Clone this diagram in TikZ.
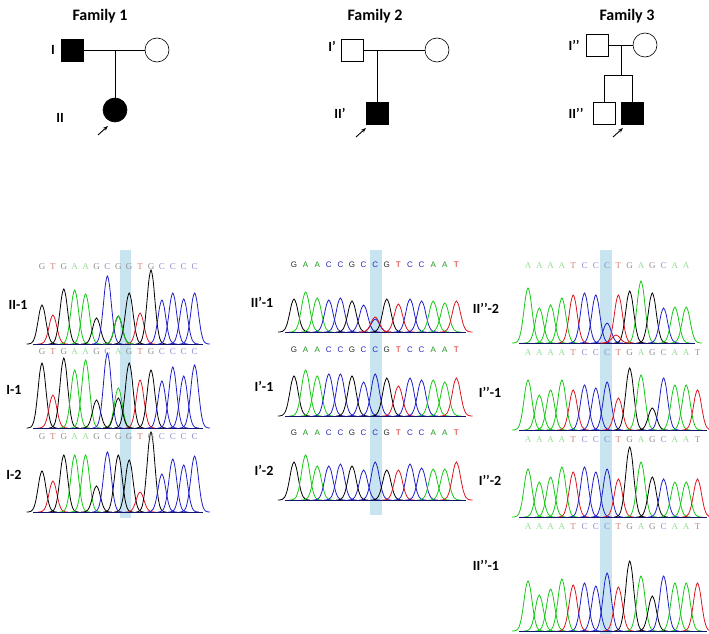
\documentclass[tikz,border=0pt]{standalone}
\usepackage{fontspec}
\setmainfont{Carlito}
\newfontfamily\seqfont{Liberation Serif}
\newfontfamily\seqsans{Liberation Sans}
\usetikzlibrary{arrows.meta}
\definecolor{colA}{RGB}{20,200,20}
\definecolor{colC}{RGB}{30,30,200}
\definecolor{colG}{RGB}{0,0,0}
\definecolor{colT}{RGB}{220,20,30}
\definecolor{txtA}{RGB}{150,220,150}
\definecolor{txtC}{RGB}{140,140,210}
\definecolor{txtG}{RGB}{140,140,140}
\definecolor{txtT}{RGB}{210,130,120}
\definecolor{darkA}{RGB}{30,150,30}
\definecolor{darkC}{RGB}{40,40,190}
\definecolor{darkG}{RGB}{40,40,40}
\definecolor{darkT}{RGB}{210,30,30}
\definecolor{hilite}{RGB}{200,228,240}
\definecolor{axis}{RGB}{20,20,110}
\tikzset{
  male/.style={draw,rectangle,minimum size=22pt,inner sep=0pt,line width=0.6pt},
  female/.style={draw,circle,minimum size=24pt,inner sep=0pt,line width=0.6pt},
  affected/.style={fill=black},
  famtitle/.style={font=\bfseries\fontsize{16}{18}\selectfont},
  gen/.style={font=\bfseries\fontsize{14}{16}\selectfont},
  sample/.style={font=\bfseries\fontsize{14}{16}\selectfont},
}
% peak: x, dx, baseline, height, colour
\newcommand\peak[5]{%
  \draw[#5,line width=0.8pt] plot[smooth,domain={#1-1.4*#2}:{#1+1.4*#2},samples=15]
    (\x,{#3-#4*exp(-((\x-#1)/(0.5*#2))^2)});}
% trace: x0, dx, baseline, text y, letter/height list, count, text colour prefix, font
\newcommand\trace[8]{%
  \foreach \b/\h [count=\i from 0] in {#5}{
    \pgfmathsetmacro\px{#1+\i*#2}
    \peak{\px}{#2}{#3}{\h}{col\b}
    \node[text=#7\b,font=#8,inner sep=0pt] at (\px,#4) {\b};
  }
  \draw[axis,line width=0.8pt] ({#1-0.8*#2},#3) -- ({#1+(#6-0.2)*#2},#3);}
\begin{document}
\begin{tikzpicture}[x=1pt,y=-1pt]
\useasboundingbox (0,0) rectangle (709,634);
% highlights
\fill[hilite] (120,250) rectangle (131,518);
\fill[hilite] (370,250) rectangle (382,515);
\fill[hilite] (600,250) rectangle (612,634);

% family 1
\node[famtitle] (t1) at (100,16) {Family 1};
\node[male,affected] (f1a) at (72,50) {};
\node[female] (f1b) at (157,50) {};
\node[female,affected] (f1c) at (115,110) {};
\coordinate (f1m) at (115,50);
\draw (f1a) -- (f1b);
\draw (f1m) -- (f1c);
\node[gen] (g1a) at (53,50) {I};
\node[gen] (g1b) at (60,118) {II};
\coordinate (a1s) at (98,135); \coordinate (a1e) at (108,126);
\draw[-{Stealth[length=5pt]},line width=0.9pt] (a1s) -- (a1e);

% family 2
\node[famtitle] (t2) at (375,16) {Family 2};
\node[male] (f2a) at (352,50) {};
\node[female] (f2b) at (437,50) {};
\node[male,affected] (f2c) at (377,113) {};
\coordinate (f2m) at (377,50);
\draw (f2a) -- (f2b);
\draw (f2m) -- (f2c);
\node[gen] (g2a) at (332,46) {I’};
\node[gen] (g2b) at (340,113) {II’};
\coordinate (a2s) at (356,137); \coordinate (a2e) at (366,128);
\draw[-{Stealth[length=5pt]},line width=0.9pt] (a2s) -- (a2e);

% family 3
\node[famtitle] (t3) at (627,16) {Family 3};
\node[male] (f3a) at (597,45) {};
\node[female] (f3b) at (645,45) {};
\node[male] (f3c) at (604,113) {};
\node[male,affected] (f3d) at (632,113) {};
\coordinate (f3m) at (621,45);
\coordinate (f3j) at (621,75);
\coordinate (f3l) at (604,75);
\coordinate (f3r) at (632,75);
\draw (f3a) -- (f3b);
\draw (f3m) -- (f3j);
\draw (f3l) -- (f3r);
\draw (f3l) -- (f3c);
\draw (f3r) -- (f3d);
\node[gen] (g3a) at (574,45) {I’’};
\node[gen] (g3b) at (576,113) {II’’};
\coordinate (a3s) at (613,137); \coordinate (a3e) at (623,128);
\draw[-{Stealth[length=5pt]},line width=0.9pt] (a3s) -- (a3e);

% chromatograms family 1
\trace{42}{10.9}{344}{267}{G/39,T/29,G/55,A/54,A/50,G/26,C/68,G/28,G/51,T/31,G/74,C/44,C/51,C/45,C/51}{15}{txt}{\seqfont\small}
\peak{118.3}{10.9}{344}{28}{colA}
\trace{42}{10.9}{428}{352}{G/65,T/33,G/70,A/58,A/68,G/28,C/75,A/40,G/65,T/48,G/58,C/47,C/61,C/52,C/63}{15}{txt}{\seqfont\small}
\peak{118.3}{10.9}{428}{30}{colG}
\trace{42}{10.9}{512}{437}{G/41,T/31,G/57,A/57,A/57,G/26,C/60,G/57,G/52,T/20,G/80,C/38,C/53,C/47,C/56}{15}{txt}{\seqfont\small}
\node[sample] (s11) at (18,305) {II-1};
\node[sample] (s12) at (14,390) {I-1};
\node[sample] (s13) at (14,475) {I-2};

% chromatograms family 2
\trace{294}{11.6}{332}{265}{G/33,A/40,A/34,C/32,C/34,G/31,C/27,C/13,G/33,T/28,C/33,C/31,A/31,A/29,T/31}{15}{dark}{\seqsans\footnotesize}
\peak{375.2}{11.6}{332}{15}{colT}
\trace{294}{11.6}{416}{350}{G/40,A/46,A/40,C/42,C/42,G/40,C/34,C/42,G/38,T/30,C/38,C/36,A/36,A/34,T/38}{15}{dark}{\seqsans\footnotesize}
\trace{294}{11.6}{500}{433}{G/38,A/45,A/34,C/34,C/36,G/34,C/30,C/38,G/30,T/30,C/36,C/32,A/31,A/31,T/38}{15}{dark}{\seqsans\footnotesize}
\node[sample] (s21) at (262,302) {II’-1};
\node[sample] (s22) at (264,386) {I’-1};
\node[sample] (s23) at (264,470) {I’-2};

% chromatograms family 3
\trace{528}{11.3}{343}{266}{A/55,A/35,A/38,A/45,T/48,C/50,C/48,C/20,T/48,G/52,A/62,G/50,C/35,A/36,A/36}{15}{txt}{\seqfont\small}
\peak{616}{11.3}{343}{8}{colT}
\trace{528}{11.3}{430}{353}{A/50,A/35,A/40,A/50,T/40,C/45,C/42,C/48,T/32,G/62,A/55,G/22,C/52,A/45,A/45,T/40}{16}{txt}{\seqfont\small}
\trace{528}{11.3}{517}{440}{A/48,A/35,A/40,A/50,T/45,C/50,C/45,C/48,T/38,G/70,A/55,G/40,C/38,A/35,A/35,T/38}{16}{txt}{\seqfont\small}
\trace{528}{11.3}{631}{527}{A/50,A/36,A/42,A/52,T/46,C/48,C/45,C/58,T/44,G/70,A/55,G/35,C/55,A/48,A/48,T/48}{16}{txt}{\seqfont\small}
\node[sample] (s31) at (486,308) {II’’-2};
\node[sample] (s32) at (490,392) {I’’-1};
\node[sample] (s33) at (490,480) {I’’-2};
\node[sample] (s34) at (486,565) {II’’-1};
\end{tikzpicture}
\end{document}
